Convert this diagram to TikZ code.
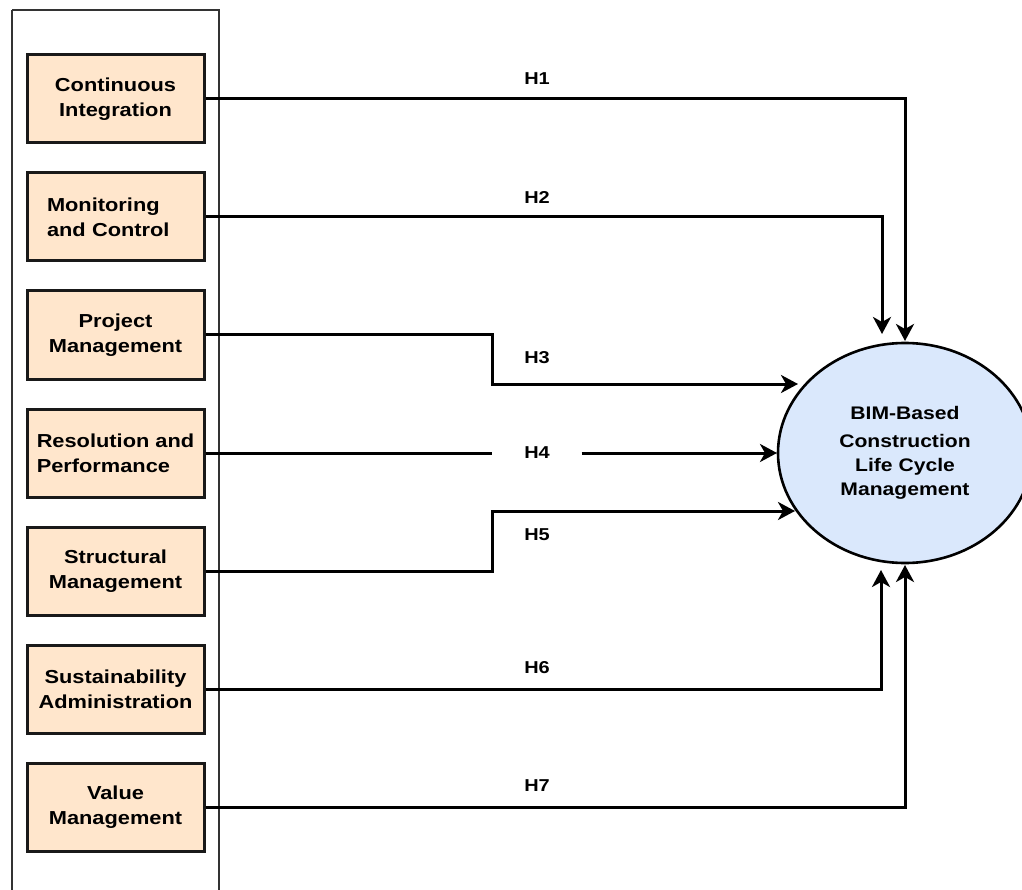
\documentclass[tikz,border=0pt]{standalone}
\usepackage{fontspec}
\setmainfont{Liberation Sans}[FakeStretch=1.16]
\usetikzlibrary{arrows.meta,shapes.geometric}
\definecolor{peach}{HTML}{FFE6CC}
\definecolor{lblue}{HTML}{DAE8FC}
\definecolor{frame}{HTML}{333333}
\begin{document}
\begin{tikzpicture}[x=1pt,y=-1pt,
  factor/.style={draw=black!90, line width=3pt, fill=peach, minimum width=177pt,
    minimum height=88pt, inner sep=0pt, align=center,
    font=\fontsize{18.8}{25}\selectfont\bfseries},
  outcome/.style={ellipse, draw=black, line width=2.6pt, fill=lblue, minimum width=254pt,
    minimum height=220pt, inner sep=0pt, align=center,
    font=\fontsize{18.2}{24}\selectfont\bfseries},
  conn/.style={line width=3pt, -{Stealth[length=17pt,width=18pt,inset=5pt]}},
  plain/.style={line width=3pt},
  hlabel/.style={font=\fontsize{17.2}{20}\selectfont\bfseries, inner sep=0pt}]
\useasboundingbox (0,0) rectangle (1022,890);
\draw[frame, line width=1.4pt] (12,10) -- (219,10) -- (219,900) (12,900) -- (12,10);

\node[factor] (b1) at (115.5,99) {Continuous\\Integration};
\node[factor, align=left, text width=137pt, inner xsep=20pt] (b2) at (115.5,217) {Monitoring\\and Control};
\node[factor] (b3) at (115.5,335) {Project\\Management};
\node[factor, align=left] (b4) at (115.5,453) {Resolution and\\Performance};
\node[factor] (b5) at (115.5,571) {Structural\\Management};
\node[factor] (b6) at (115.5,689) {Sustainability\\Administration};
\node[factor] (b7) at (115.5,807) {Value\\Management};

\node[outcome] (e) at (905,453) {BIM-Based\\[4pt]Construction\\Life Cycle\\Management};

\coordinate (t1) at (905,341);
\coordinate (t2) at (882,334);
\coordinate (t3) at (798,384);
\coordinate (t4) at (777,453);
\coordinate (t5) at (795,511);
\coordinate (t6) at (881,570);
\coordinate (t7) at (905,565);

\node[hlabel] (h1) at (537,79) {H1};
\node[hlabel] (h2) at (537,197) {H2};
\node[hlabel] (h3) at (537,358) {H3};
\node[hlabel, minimum width=89pt] (h4) at (537,453) {H4};
\node[hlabel] (h5) at (537,535) {H5};
\node[hlabel] (h6) at (537,668) {H6};
\node[hlabel] (h7) at (537,786) {H7};

\draw[conn] (b1.east) -| (t1);
\draw[conn] (b2.east) -| (t2);
\draw[conn] (b3.east) -| (492,384) -- (t3);
\draw[plain] (b4.east) -- (h4.west);
\draw[conn] (h4.east) -- (t4);
\draw[conn] (b5.east) -| (492,511) -- (t5);
\draw[conn] (b6.east) -| (t6);
\draw[conn] (b7.east) -| (t7);
\end{tikzpicture}
\end{document}
